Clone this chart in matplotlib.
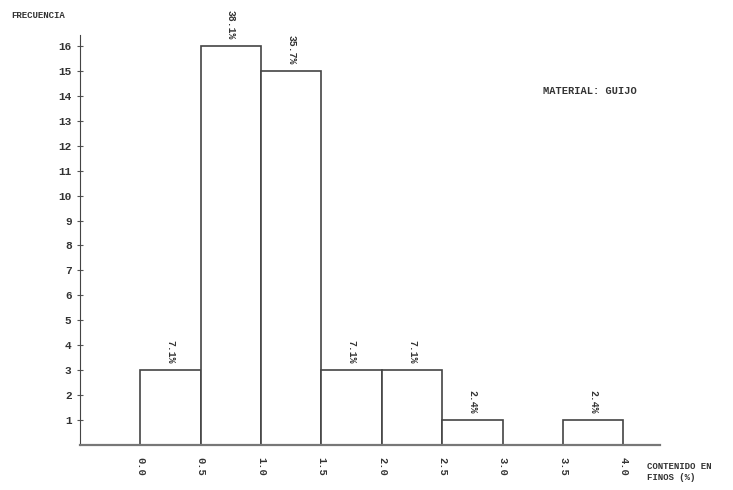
import matplotlib.pyplot as plt
import numpy as np

# histograma de contenido en finos
bordes = [0.0, 0.5, 1.0, 1.5, 2.0, 2.5, 3.0, 3.5, 4.0]
frecuencias = [3, 16, 15, 3, 3, 1, 0, 1]
porcentajes = ["7.1%", "38.1%", "35.7%", "7.1%", "7.1%", "2.4%", "", "2.4%"]
etiquetas_x = ["0.0", "0.5", "1.0", "1.5", "2.0", "2.5", "3.0", "3.5", "4.0"]
etiquetas_y = list(range(1, 17))

fuente = "Liberation Mono"
gris = "#333333"

fig = plt.figure(figsize=(7.33, 4.9), dpi=100)
ax = fig.add_axes([0.109, 0.092, 0.791, 0.837])

anchos = np.diff(bordes)
for i, f in enumerate(frecuencias):
    if f == 0:
        continue
    ax.bar(bordes[i], f, width=anchos[i], align="edge", facecolor="white",
           edgecolor="#444444", linewidth=1.2)
    ax.text(bordes[i] + anchos[i] / 2, f + 0.25, porcentajes[i], rotation=-90,
            ha="center", va="bottom", fontsize=7, family=fuente,
            fontweight="bold", color=gris)

ax.set_xlim(-0.5, 4.3)
ax.set_ylim(0, 16.45)
ax.spines["top"].set_visible(False)
ax.spines["right"].set_visible(False)
ax.spines["left"].set_color("#444444")
ax.spines["bottom"].set_color("#777777")
ax.spines["bottom"].set_linewidth(1.6)

ax.set_yticks(etiquetas_y)
ax.set_yticklabels([str(v) for v in etiquetas_y], family=fuente,
                   fontweight="bold", fontsize=8, color=gris)
ax.tick_params(axis="y", direction="inout", length=5, width=0.8, color="#555555")

ax.set_xticks(bordes)
ax.set_xticklabels(etiquetas_x, rotation=-90, family=fuente, fontweight="bold",
                   fontsize=7.5, color=gris)
ax.tick_params(axis="x", length=0, pad=9)

fig.text(0.016, 0.963, "FRECUENCIA", family=fuente, fontweight="bold",
         fontsize=6.5, color=gris)
fig.text(0.741, 0.808, "MATERIAL: GUIJO", family=fuente, fontweight="bold",
         fontsize=7.5, color=gris)
fig.text(0.883, 0.058, "CONTENIDO EN\nFINOS (%)", family=fuente,
         fontweight="bold", fontsize=6.5, color=gris, va="top",
         linespacing=1.3)

fig.savefig("out.png", dpi=100)
